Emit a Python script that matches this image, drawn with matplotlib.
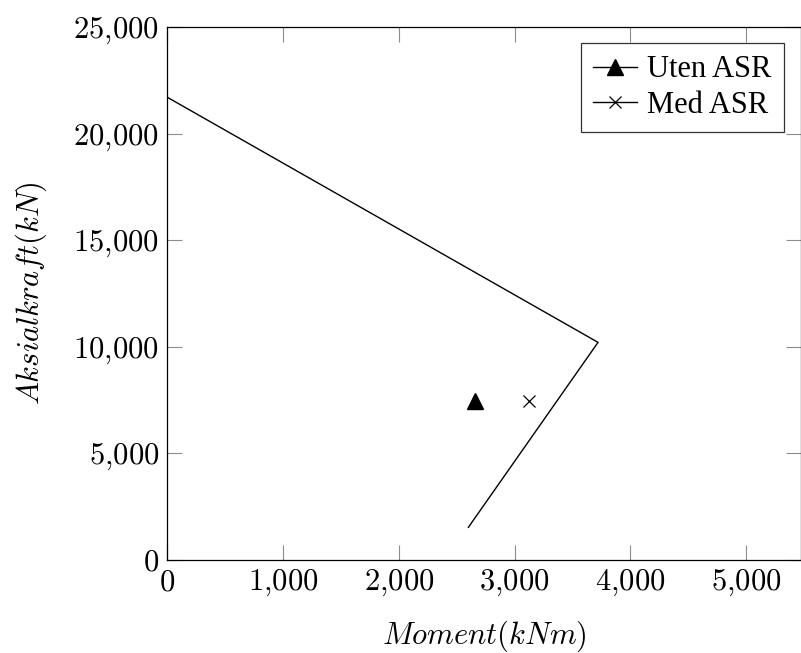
import matplotlib
matplotlib.use("Agg")
import matplotlib.pyplot as plt
from matplotlib.ticker import FuncFormatter

plt.rcParams["mathtext.fontset"] = "cm"
plt.rcParams["font.family"] = ["Liberation Serif", "DejaVu Serif"]

# Interaction diagram (capacity curve)
curve_moment = [0, 3720, 2600]
curve_axial = [21700, 10200, 1520]

# Load points
uten_moment = [2660]
uten_axial = [7460]
med_moment = [3120]
med_axial = [7440]

x_ticks = [0, 1000, 2000, 3000, 4000, 5000]
y_ticks = [0, 5000, 10000, 15000, 20000, 25000]

fig = plt.figure(figsize=(8.01, 6.53), dpi=100)
ax = fig.add_axes([167.4 / 801, 1 - 559.7 / 653, (800.5 - 167.4) / 801, (559.7 - 27) / 653])

ax.plot(curve_moment, curve_axial, color="black", lw=1.0)
ax.plot(uten_moment, uten_axial, color="black", lw=1.0, marker="^", markersize=11,
        label="Uten ASR")
ax.plot(med_moment, med_axial, color="black", lw=1.0, marker="x", markersize=9,
        markeredgewidth=0.9, label="Med ASR")

ax.set_xlim(0, 5469)
ax.set_ylim(0, 25000)
ax.set_xticks(x_ticks)
ax.set_yticks(y_ticks)


def fmt(v, pos):
    s = f"{int(round(v)):,}".replace(",", "{,}")
    return f"${s}$"


ax.xaxis.set_major_formatter(FuncFormatter(fmt))
ax.yaxis.set_major_formatter(FuncFormatter(fmt))
ax.tick_params(which="major", direction="in", length=11, width=0.8, color="0.55",
               top=True, right=True, labelsize=22, pad=6)

for sp in ax.spines.values():
    sp.set_linewidth(0.9)
    sp.set_color("black")

ax.set_xlabel(r"$Moment(kNm)$", fontsize=22)
ax.set_ylabel(r"$Aksialkraft(kN)$", fontsize=22)
ax.xaxis.set_label_coords(0.5, -0.11)
ax.yaxis.set_label_coords(-0.187, 0.5)

leg = ax.legend(loc="upper right", bbox_to_anchor=(784 / 801, 1 - 43 / 653),
                bbox_transform=fig.transFigure, borderaxespad=0, fontsize=22,
                frameon=True, fancybox=False, handlelength=1.45, handletextpad=0.33,
                labelspacing=0.22, borderpad=0.4)
leg.get_frame().set_edgecolor("black")
leg.get_frame().set_linewidth(0.9)

fig.savefig("out.png", dpi=100)
